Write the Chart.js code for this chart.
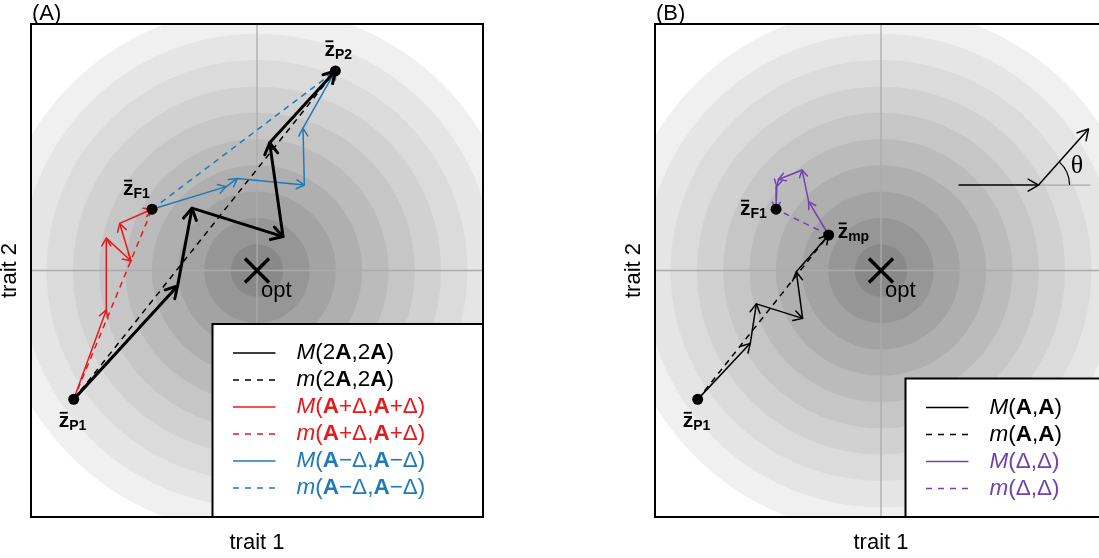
<!DOCTYPE html>
<html>
<head>
<meta charset="utf-8">
<script src="https://cdn.jsdelivr.net/npm/chart.js@4.4.1/dist/chart.umd.min.js"></script>
<style>
  html, body { margin: 0; padding: 0; background: #fff; overflow: hidden; }
  body { width: 1099px; height: 558px; position: relative; }
  canvas { position: absolute; top: 0; }
  #panelA { left: 0; }
  #panelB { left: 624px; }
</style>
</head>
<body>
<canvas id="panelA" width="549" height="558"></canvas>
<canvas id="panelB" width="549" height="558"></canvas>
<script>
// trait space, optimum at (0,0), one unit = one fitness contour step
const ringRadii = [10, 9, 8, 7, 6, 5, 4, 3, 2, 1];
const ringGreys = ['#f0f0f0', '#e5e5e5', '#dbdbdb', '#d1d1d1', '#c6c6c6', '#bbbbbb', '#afafaf', '#a3a3a3', '#969696', '#898989'];

const opt = { x: 0, y: 0 };
const zP1 = { x: -6.97, y: -4.90 };
const zF1 = { x: -3.99, y: 2.33 };
const zP2 = { x: 2.98, y: 7.59 };
const zMP = { x: -1.99, y: 1.35 };

// panel A paths
const pathM2A  = [zP1, { x: -3.02, y: -0.59 }, { x: -2.47, y: 2.37 }, { x: 0.99, y: 1.29 }, { x: 0.48, y: 4.86 }, zP2];
const pathMApD = [zP1, { x: -5.73, y: -1.50 }, { x: -5.73, y: 1.23 }, { x: -4.79, y: 0.36 }, { x: -5.22, y: 1.79 }, zF1];
const pathMAmD = [zF1, { x: -1.17, y: 3.19 }, { x: -0.75, y: 3.50 }, { x: 1.80, y: 3.25 }, { x: 1.75, y: 5.41 }, zP2];

// panel B paths
const pathMAA = [zP1, { x: -4.97, y: -2.77 }, { x: -4.74, y: -1.27 }, { x: -2.98, y: -1.82 }, { x: -3.22, y: -0.05 }, zMP];
const pathMDD = [zMP, { x: -2.75, y: 2.62 }, { x: -3.00, y: 3.82 }, { x: -3.90, y: 3.46 }, { x: -3.96, y: 3.19 }, zF1];

// angle sketch in panel B
const thetaIn    = [{ x: 2.95, y: 3.25 }, { x: 5.99, y: 3.25 }];
const thetaOut   = [{ x: 5.99, y: 3.25 }, { x: 7.89, y: 5.38 }];
const thetaBase  = [{ x: 5.99, y: 3.25 }, { x: 7.96, y: 3.25 }];
const thetaArcR  = 1.18;
const thetaLabel = { x: 7.45, y: 3.95 };

const xHalf = 8.593, yHalf = 9.373;

const RED = '#E41A1C', BLUE = '#1F7AB8', PURPLE = '#7043AD';
const FONT = '"Liberation Sans", Arial, sans-serif';

const legendA = [
  { color: '#000', dash: false, text: [['M', 'i'], ['(2', 'r'], ['A', 'b'], [',2', 'r'], ['A', 'b'], [')', 'r']] },
  { color: '#000', dash: true,  text: [['m', 'i'], ['(2', 'r'], ['A', 'b'], [',2', 'r'], ['A', 'b'], [')', 'r']] },
  { color: RED,    dash: false, text: [['M', 'i'], ['(', 'r'], ['A', 'b'], ['+\u0394,', 'r'], ['A', 'b'], ['+\u0394)', 'r']] },
  { color: RED,    dash: true,  text: [['m', 'i'], ['(', 'r'], ['A', 'b'], ['+\u0394,', 'r'], ['A', 'b'], ['+\u0394)', 'r']] },
  { color: BLUE,   dash: false, text: [['M', 'i'], ['(', 'r'], ['A', 'b'], ['\u2212\u0394,', 'r'], ['A', 'b'], ['\u2212\u0394)', 'r']] },
  { color: BLUE,   dash: true,  text: [['m', 'i'], ['(', 'r'], ['A', 'b'], ['\u2212\u0394,', 'r'], ['A', 'b'], ['\u2212\u0394)', 'r']] }
];
const legendB = [
  { color: '#000', dash: false, text: [['M', 'i'], ['(', 'r'], ['A', 'b'], [',', 'r'], ['A', 'b'], [')', 'r']] },
  { color: '#000', dash: true,  text: [['m', 'i'], ['(', 'r'], ['A', 'b'], [',', 'r'], ['A', 'b'], [')', 'r']] },
  { color: PURPLE, dash: false, text: [['M', 'i'], ['(\u0394,\u0394)', 'r']] },
  { color: PURPLE, dash: true,  text: [['m', 'i'], ['(\u0394,\u0394)', 'r']] }
];

// extra drawing per panel (labels, legend box)
const panelExtras = {
  panelA: {
    tag: '(A)',
    labels: [[zP2, 'P2', -11, -15], [zF1, 'F1', -29, -14], [zP1, 'P1', -15, 28]],
    legend: { left: 212.5, top: 324, rows: legendA }
  },
  panelB: {
    tag: '(B)',
    labels: [[zF1, 'F1', -36, 6], [zMP, 'mp', 9, 3], [zP1, 'P1', -15, 28]],
    legend: { left: 281.5, top: 378.5, rows: legendB },
    theta: true
  }
};

function fontFor(s, size) {
  size = size || 22.5;
  if (s === 'i') return 'italic ' + size + 'px ' + FONT;
  if (s === 'b') return 'bold ' + size + 'px ' + FONT;
  return size + 'px ' + FONT;
}

function pathSet(data, color, width, extra) {
  return Object.assign({
    data: data, showLine: true, borderColor: color, borderWidth: width,
    pointRadius: 0, pointHoverRadius: 0, tension: 0, fill: false,
    borderJoinStyle: 'round', order: 2
  }, extra || {});
}

function dashSet(a, b, color) {
  return pathSet([a, b], color, 1.5, { borderDash: [6, 5], order: 3 });
}

function zLabel(ctx, px, py, sub) {
  ctx.font = 'bold 21px ' + FONT;
  ctx.textBaseline = 'alphabetic';
  ctx.textAlign = 'left';
  ctx.fillText('z', px, py);
  const w = ctx.measureText('z').width;
  ctx.fillRect(px + 1, py - 15.5, w - 2.5, 1.8);
  ctx.font = 'bold 14px ' + FONT;
  ctx.fillText(sub, px + w, py + 3);
}

function drawLegend(ctx, L, right, bottom) {
  ctx.save();
  ctx.fillStyle = '#fff';
  ctx.fillRect(L.left, L.top, right - L.left, bottom - L.top);
  ctx.strokeStyle = '#000';
  ctx.lineWidth = 2;
  ctx.strokeRect(L.left, L.top, right - L.left, bottom - L.top);
  L.rows.forEach(function (row, i) {
    const yy = L.top + 29 + i * 27;
    ctx.strokeStyle = row.color;
    ctx.lineWidth = 1.5;
    ctx.setLineDash(row.dash ? [6, 6] : []);
    ctx.beginPath();
    ctx.moveTo(L.left + 20.5, yy);
    ctx.lineTo(L.left + 63, yy);
    ctx.stroke();
    ctx.setLineDash([]);
    let tx = L.left + 84;
    ctx.fillStyle = row.color;
    ctx.textBaseline = 'middle';
    ctx.textAlign = 'left';
    row.text.forEach(function (run) {
      ctx.font = fontFor(run[1]);
      ctx.fillText(run[0], tx, yy);
      tx += ctx.measureText(run[0]).width;
    });
  });
  ctx.restore();
}

const panelPlugin = {
  id: 'panel',
  beforeDatasetsDraw(chart) {
    const ctx = chart.ctx, a = chart.chartArea;
    const xs = chart.scales.x, ys = chart.scales.y;
    const cx = xs.getPixelForValue(opt.x), cy = ys.getPixelForValue(opt.y);
    ctx.save();
    ctx.beginPath();
    ctx.rect(a.left, a.top, a.width, a.height);
    ctx.clip();
    ringRadii.forEach(function (r, i) {
      const pr = xs.getPixelForValue(r) - xs.getPixelForValue(0);
      ctx.fillStyle = ringGreys[i];
      ctx.beginPath();
      ctx.arc(cx, cy, pr, 0, Math.PI * 2);
      ctx.fill();
    });
    // reference lines through the optimum
    ctx.strokeStyle = '#ababab';
    ctx.lineWidth = 1.3;
    ctx.beginPath();
    ctx.moveTo(cx, a.top); ctx.lineTo(cx, a.bottom);
    ctx.moveTo(a.left, cy); ctx.lineTo(a.right, cy);
    ctx.stroke();
    ctx.restore();
  },
  afterDatasetDraw(chart, args) {
    const ds = chart.data.datasets[args.index];
    if (!ds.arrow) return;
    const ctx = chart.ctx, pts = args.meta.data;
    ctx.save();
    ctx.strokeStyle = ds.borderColor;
    ctx.lineWidth = ds.borderWidth;
    ctx.lineCap = 'round';
    ctx.lineJoin = 'round';
    for (let i = 1; i < pts.length; i++) {
      const p0 = pts[i - 1], p1 = pts[i];
      const ang = Math.atan2(p1.y - p0.y, p1.x - p0.x);
      const L = ds.arrow, s = Math.PI / 6;
      ctx.beginPath();
      ctx.moveTo(p1.x - L * Math.cos(ang - s), p1.y - L * Math.sin(ang - s));
      ctx.lineTo(p1.x, p1.y);
      ctx.lineTo(p1.x - L * Math.cos(ang + s), p1.y - L * Math.sin(ang + s));
      ctx.stroke();
    }
    ctx.restore();
  },
  afterDraw(chart) {
    const ctx = chart.ctx, a = chart.chartArea;
    const xs = chart.scales.x, ys = chart.scales.y;
    const ex = panelExtras[chart.canvas.id];
    ctx.save();

    if (ex.theta) {
      const vx = xs.getPixelForValue(thetaOut[0].x), vy = ys.getPixelForValue(thetaOut[0].y);
      const tx = xs.getPixelForValue(thetaOut[1].x), ty = ys.getPixelForValue(thetaOut[1].y);
      const pr = xs.getPixelForValue(thetaArcR) - xs.getPixelForValue(0);
      ctx.strokeStyle = '#000';
      ctx.lineWidth = 1.2;
      ctx.beginPath();
      ctx.arc(vx, vy, pr, Math.atan2(ty - vy, tx - vx), 0);
      ctx.stroke();
      ctx.fillStyle = '#000';
      ctx.font = '26px "Liberation Serif", "DejaVu Serif", serif';
      ctx.textAlign = 'center';
      ctx.textBaseline = 'middle';
      ctx.fillText('\u03b8', xs.getPixelForValue(thetaLabel.x), ys.getPixelForValue(thetaLabel.y));
    }

    // "opt" label
    ctx.fillStyle = '#000';
    ctx.font = fontFor('r', 22);
    ctx.textAlign = 'left';
    ctx.textBaseline = 'alphabetic';
    ctx.fillText('opt', xs.getPixelForValue(opt.x) + 4, ys.getPixelForValue(opt.y) + 26);

    // point labels
    ex.labels.forEach(function (l) {
      zLabel(ctx, xs.getPixelForValue(l[0].x) + l[2], ys.getPixelForValue(l[0].y) + l[3], l[1]);
    });

    // frame
    ctx.strokeStyle = '#000';
    ctx.lineWidth = 2;
    ctx.strokeRect(a.left, a.top, a.width, a.height);

    drawLegend(ctx, ex.legend, a.right, a.bottom);

    // axis titles and panel tag
    ctx.fillStyle = '#000';
    ctx.font = fontFor('r', 22);
    ctx.textAlign = 'center';
    ctx.textBaseline = 'middle';
    ctx.fillText('trait 1', (a.left + a.right) / 2, 543);
    ctx.save();
    ctx.translate(a.left - 21, (a.top + a.bottom) / 2);
    ctx.rotate(-Math.PI / 2);
    ctx.fillText('trait 2', 0, 0);
    ctx.restore();
    ctx.textAlign = 'left';
    ctx.fillText(ex.tag, a.left + 1, 13.5);
    ctx.restore();
  }
};

function makePanel(id, datasets) {
  return new Chart(document.getElementById(id), {
    type: 'scatter',
    data: { datasets: datasets },
    options: {
      responsive: false,
      animation: false,
      devicePixelRatio: 1,
      events: [],
      layout: { padding: { left: 31, top: 24, right: 66, bottom: 41 } },
      plugins: { legend: { display: false }, tooltip: { enabled: false } },
      scales: {
        x: { type: 'linear', display: false, min: -xHalf, max: xHalf },
        y: { type: 'linear', display: false, min: -yHalf, max: yHalf }
      }
    },
    plugins: [panelPlugin]
  });
}

function dots(list) {
  return { data: list, pointRadius: 5.5, pointBackgroundColor: '#000', pointBorderColor: '#000', pointBorderWidth: 0, showLine: false, order: 0 };
}
function optMark() {
  return { data: [opt], pointStyle: 'crossRot', pointRadius: 17, pointBorderColor: '#000', pointBorderWidth: 3.5, showLine: false, order: 1 };
}

makePanel('panelA', [
  dots([zP1, zF1, zP2]),
  optMark(),
  pathSet(pathM2A, '#000', 3, { arrow: 13 }),
  pathSet(pathMApD, RED, 1.5, { arrow: 9 }),
  pathSet(pathMAmD, BLUE, 1.5, { arrow: 9 }),
  dashSet(zP1, zP2, '#000'),
  dashSet(zP1, zF1, RED),
  dashSet(zF1, zP2, BLUE)
]);

makePanel('panelB', [
  dots([zP1, zF1, zMP]),
  optMark(),
  pathSet(pathMAA, '#000', 1.5, { arrow: 10 }),
  pathSet(pathMDD, PURPLE, 1.5, { arrow: 8 }),
  dashSet(zP1, zMP, '#000'),
  dashSet(zMP, zF1, PURPLE),
  pathSet(thetaBase, '#aaaaaa', 1.3, { order: 4 }),
  pathSet(thetaIn, '#000', 1.5, { arrow: 12 }),
  pathSet(thetaOut, '#000', 1.5, { arrow: 12 })
]);
</script>
</body>
</html>
